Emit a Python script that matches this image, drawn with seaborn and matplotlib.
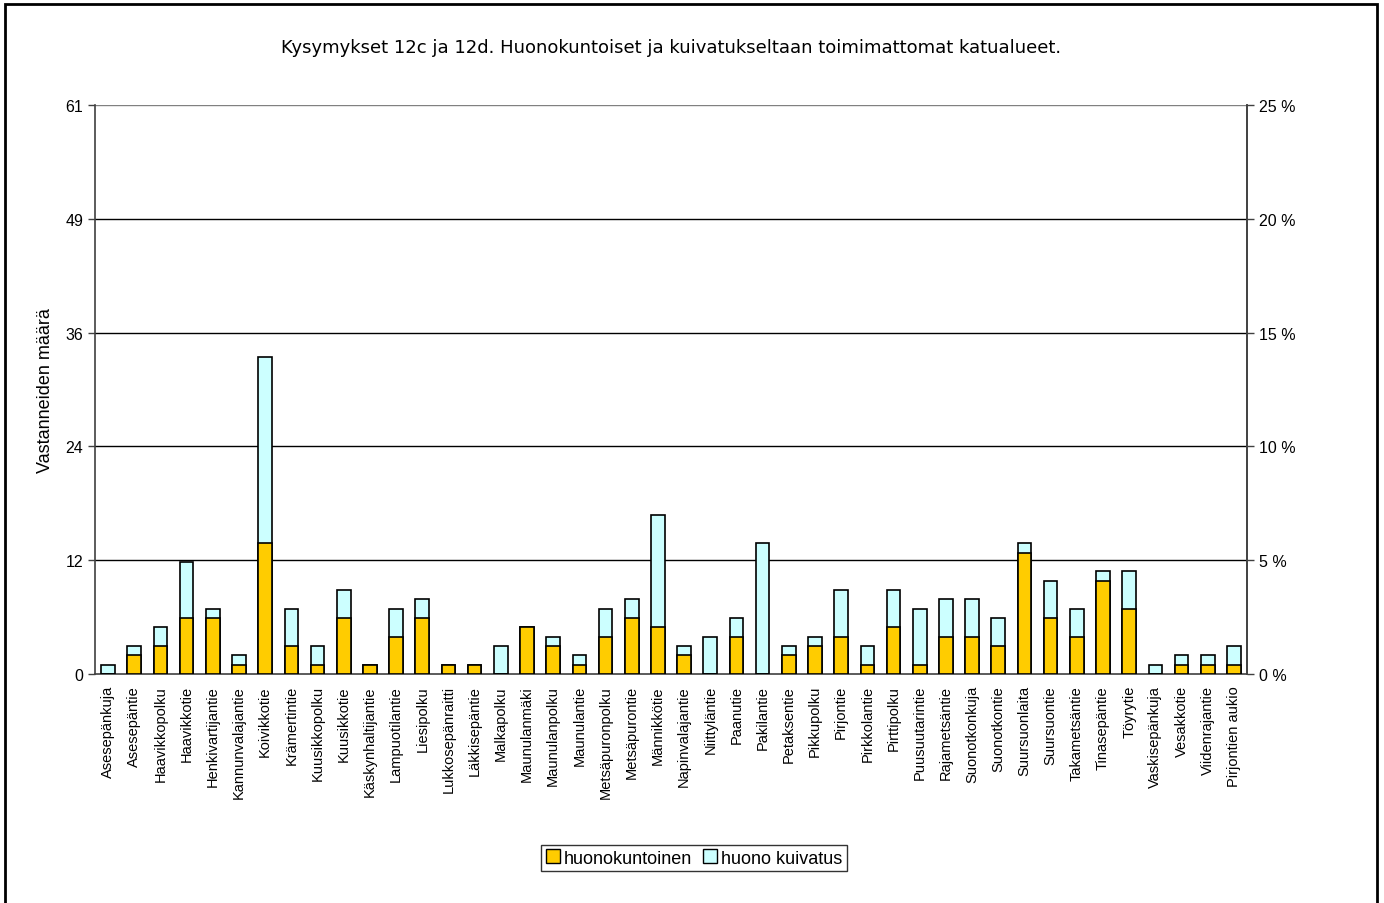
import numpy as np
import pandas as pd
import matplotlib
matplotlib.use('Agg')
import matplotlib.pyplot as plt
import seaborn as sns
from matplotlib.patches import Patch, Rectangle

# Data
streets = ['Asesepänkuja', 'Asesepäntie', 'Haavikkopolku', 'Haavikkotie', 'Henkivartijantie',
           'Kannunvalajantie', 'Koivikkotie', 'Krämertintie', 'Kuusikkopolku', 'Kuusikkotie',
           'Käskynhaltijantie', 'Lampuotilantie', 'Liesipolku', 'Lukkosepänraitti', 'Läkkisepäntie',
           'Malkapolku', 'Maunulanmäki', 'Maunulanpolku', 'Maunulantie', 'Metsäpuronpolku',
           'Metsäpurontie', 'Männikkötie', 'Napinvalajantie', 'Niittyläntie', 'Paanutie',
           'Pakilantie', 'Petaksentie', 'Pikkupolku', 'Pirjontie', 'Pirkkolantie',
           'Pirttipolku', 'Puusuutarintie', 'Rajametsäntie', 'Suonotkonkuja', 'Suonotkontie',
           'Suursuonlaita', 'Suursuontie', 'Takametsäntie', 'Tinasepäntie', 'Töyrytie',
           'Vaskisepänkuja', 'Vesakkotie', 'Viidenrajantie', 'Pirjontien aukio']
huonokuntoinen = [0, 2, 3, 6, 6, 1, 14, 3, 1, 6,
                  1, 4, 6, 1, 1, 0, 5, 3, 1, 4,
                  6, 5, 2, 0, 4, 0, 2, 3, 4, 1,
                  5, 1, 4, 4, 3, 13, 6, 4, 10, 7,
                  0, 1, 1, 1]
huono_kuivatus = [1, 1, 2, 6, 1, 1, 20, 4, 2, 3,
                  0, 3, 2, 0, 0, 3, 0, 1, 1, 3,
                  2, 12, 1, 4, 2, 14, 1, 1, 5, 2,
                  4, 6, 4, 4, 3, 1, 4, 3, 1, 4,
                  1, 1, 1, 2]
left_tick_labels = ['0', '12', '24', '36', '49', '61']
right_tick_labels = ['0 %', '5 %', '10 %', '15 %', '20 %', '25 %']

df = pd.DataFrame({'katu': streets, 'huonokuntoinen': huonokuntoinen,
                   'huono kuivatus': huono_kuivatus})
df['yhteensa'] = df['huonokuntoinen'] + df['huono kuivatus']

yellow = '#FFCC00'
cyan = '#CCFFFF'

sns.set_style('white')
plt.rcParams['font.family'] = ['Liberation Sans', 'DejaVu Sans']
plt.rcParams['text.color'] = 'black'
plt.rcParams['xtick.color'] = 'black'
plt.rcParams['ytick.color'] = 'black'
plt.rcParams['axes.labelcolor'] = 'black'

fig = plt.figure(figsize=(13.84, 9.04), dpi=100)
ax = fig.add_axes([95 / 1384, 1 - 675 / 904, (1247 - 95) / 1384, (675 - 106) / 904])

# stacked bars: total in cyan, yellow part drawn over it
sns.barplot(data=df, x='katu', y='yhteensa', color=cyan, saturation=1, width=0.52,
            edgecolor='black', linewidth=1.2, ax=ax, zorder=3)
sns.barplot(data=df, x='katu', y='huonokuntoinen', color=yellow, saturation=1, width=0.52,
            edgecolor='black', linewidth=1.2, ax=ax, zorder=4)

ymax = 61
ax.set_xlim(-0.5, len(streets) - 0.5)
ax.set_ylim(0, ymax)
yt = np.linspace(0, ymax, len(left_tick_labels))
ax.set_yticks(yt)
ax.set_yticklabels(left_tick_labels, fontsize=11.5)
for y in yt[1:]:
    ax.axhline(y, color='black' if y < ymax else '#808080', lw=1, zorder=1)

ax.set_xticks(range(len(streets)))
ax.set_xticklabels(streets, rotation=90, fontsize=10.5)
ax.set_xticks(np.arange(-0.5, len(streets), 1), minor=True)
ax.tick_params(axis='x', which='major', length=0, pad=8)
ax.tick_params(axis='x', which='minor', length=5, width=1, color='#404040', direction='out')
ax.tick_params(axis='y', length=5, width=1, color='#404040', direction='out', left=True)

for side in ['left', 'bottom', 'right']:
    ax.spines[side].set_color('#404040')
    ax.spines[side].set_linewidth(1.2)
ax.spines['top'].set_visible(False)

ax.set_xlabel('')
ax.set_ylabel('Vastanneiden määrä', fontsize=13, labelpad=8)

ax2 = ax.twinx()
ax2.set_ylim(0, 25)
ax2.set_yticks(np.linspace(0, 25, len(right_tick_labels)))
ax2.set_yticklabels(right_tick_labels, fontsize=11.5)
ax2.tick_params(axis='y', length=5, width=1, color='#404040', direction='out', right=True)
for side in ['left', 'bottom', 'top']:
    ax2.spines[side].set_visible(False)
ax2.spines['right'].set_color('#404040')
ax2.spines['right'].set_linewidth(1.2)

fig.text(671 / 1384, 1 - 48 / 904,
         'Kysymykset 12c ja 12d. Huonokuntoiset ja kuivatukseltaan toimimattomat katualueet.',
         ha='center', va='center', fontsize=13, family='DejaVu Sans')

handles = [Patch(facecolor=yellow, edgecolor='black', label='huonokuntoinen'),
           Patch(facecolor=cyan, edgecolor='black', label='huono kuivatus')]
leg = fig.legend(handles=handles, loc='center', bbox_to_anchor=(694 / 1384, 1 - 859 / 904),
                 ncol=2, fontsize=13, frameon=True, fancybox=False, handlelength=0.8,
                 handleheight=0.8, handletextpad=0.2, columnspacing=0.6, borderpad=0.25,
                 borderaxespad=0)
leg.get_frame().set_edgecolor('black')
leg.get_frame().set_linewidth(1)

fig.patches.append(Rectangle((5 / 1384, -0.02), (1377 - 5) / 1384, 1.02 - 5 / 904,
                             transform=fig.transFigure, fill=False, edgecolor='black',
                             linewidth=2))

plt.savefig('out.png', dpi=100)
